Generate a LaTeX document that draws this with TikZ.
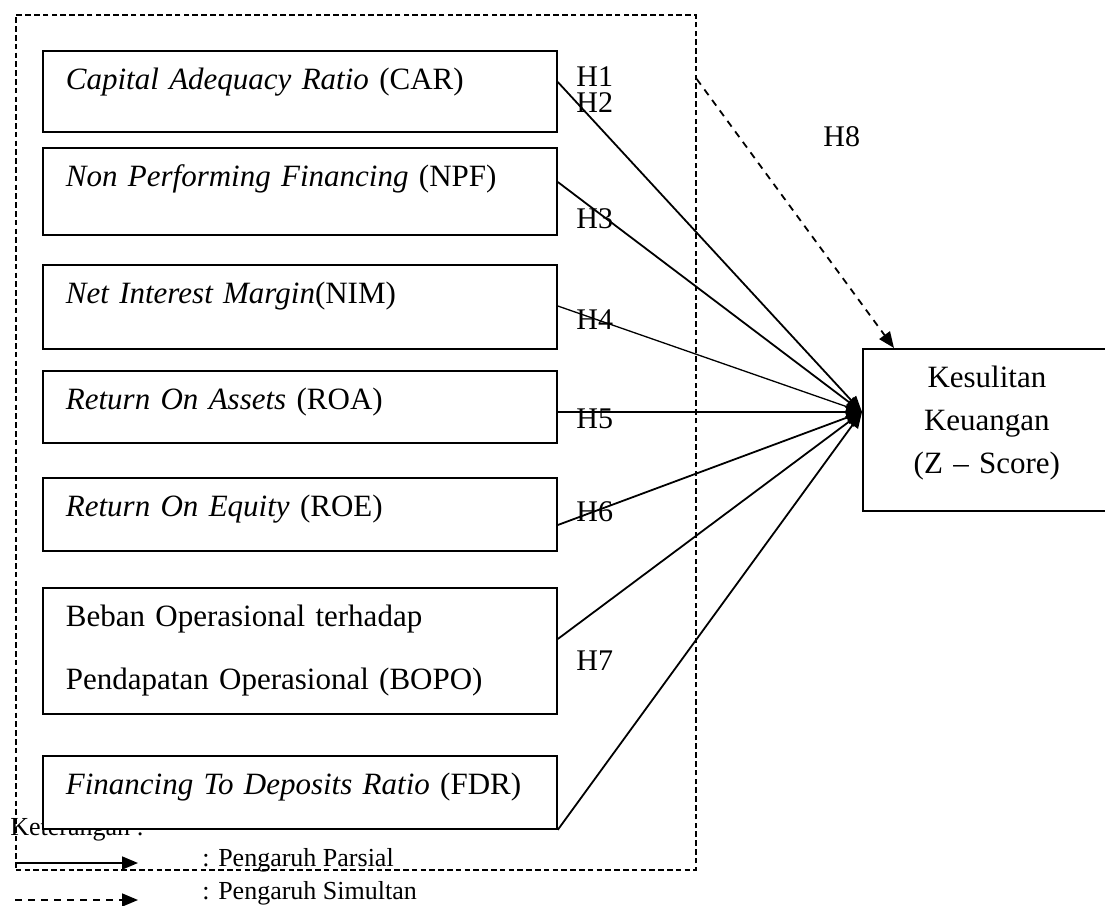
\documentclass[tikz,border=0pt]{standalone}
\usepackage{fontspec}
\setmainfont{Liberation Serif}
\usetikzlibrary{arrows.meta}

\begin{document}
\begin{tikzpicture}[x=0.5pt, y=-0.5pt,
  varbox/.style={draw, fill=white, line width=0.9pt, anchor=north west, inner xsep=11.5pt, inner ysep=0pt,
    text width=234pt, align=left, text height=19.5pt, font=\fontsize{15.5}{31.5}\selectfont},
  hlabel/.style={anchor=base west, inner sep=0pt, font=\fontsize{15}{18}\selectfont},
  legend/.style={anchor=base west, inner sep=0pt, font=\fontsize{13}{15}\selectfont},
  parsial/.style={line width=0.9pt, -{Triangle[length=8pt, width=6.5pt]}},
  simultan/.style={parsial, dash pattern=on 3.5pt off 3pt},
]
  \useasboundingbox (0,0) rectangle (1105,906);

  % frame round the independent variables
  \node[draw, line width=0.85pt, dash pattern=on 2.8pt off 1.6pt, anchor=north west, inner sep=0pt,
    minimum width=340pt, minimum height=427.5pt] (frame) at (15,14) {};
  \node[legend] (ket) at (10,835) {Keterangan :};

  \node[varbox, text depth=21pt]   (car)  at (42,50)  {\textit{Capital Adequacy Ratio} (CAR)};
  \node[varbox, text depth=24pt]   (npf)  at (42,147) {\textit{Non Performing Financing} (NPF)};
  \node[varbox, text depth=22.5pt] (nim)  at (42,264) {\textit{Net Interest Margin}(NIM)};
  \node[varbox, text depth=16.5pt] (roa)  at (42,370) {\textit{Return On Assets} (ROA)};
  \node[varbox, text depth=17pt]   (roe)  at (42,477) {\textit{Return On Equity} (ROE)};
  \node[varbox, text depth=43.5pt] (bopo) at (42,587) {Beban Operasional terhadap\\Pendapatan Operasional (BOPO)};
  \node[varbox, text depth=17pt]   (fdr)  at (42,755) {\textit{Financing To Deposits Ratio} (FDR)};

  \node[draw, fill=white, line width=0.9pt, anchor=north west, inner sep=0pt, text width=124pt, align=center,
    text height=19.5pt, text depth=61.5pt, font=\fontsize{15.5}{21.5}\selectfont] (kk) at (862,348)
    {Kesulitan\\Keuangan\\(Z -- Score)};
  \coordinate (hub) at ([yshift=-32pt]kk.north west);

  % partial effects
  \draw[parsial] ([yshift=-16pt]car.north east) -- (hub);
  \draw[parsial] ([yshift=-17.5pt]npf.north east) -- (hub);
  \draw[parsial, line width=0.65pt] ([yshift=-21pt]nim.north east) -- (hub);
  \draw[parsial] ([yshift=-21pt]roa.north east) -- (hub);
  \draw[parsial] ([yshift=-24pt]roe.north east) -- (hub);
  \draw[parsial] ([yshift=-26pt]bopo.north east) -- (hub);
  \draw[parsial] (fdr.south east) -- (hub);
  % simultaneous effect
  \draw[simultan] ([yshift=-32.5pt]frame.north east) -- ([xshift=16pt]kk.north west);

  \node[hlabel] (h1) at (576,86)  {H1};
  \node[hlabel] (h2) at (576,112) {H2};
  \node[hlabel] (h3) at (576,228) {H3};
  \node[hlabel] (h4) at (576,329) {H4};
  \node[hlabel] (h5) at (576,428) {H5};
  \node[hlabel] (h6) at (576,521) {H6};
  \node[hlabel] (h7) at (576,670) {H7};
  \node[hlabel] (h8) at (823,146) {H8};

  % legend
  \coordinate (lp1) at (15,863);
  \coordinate (lp2) at (138,863);
  \coordinate (ls1) at (15,900);
  \coordinate (ls2) at (138,900);
  \draw[parsial] (lp1) -- (lp2);
  \draw[simultan] (ls1) -- (ls2);
  \node[legend] (lpt) at (202,866) {: Pengaruh Parsial};
  \node[legend] (lst) at (202,899) {: Pengaruh Simultan};
\end{tikzpicture}
\end{document}
